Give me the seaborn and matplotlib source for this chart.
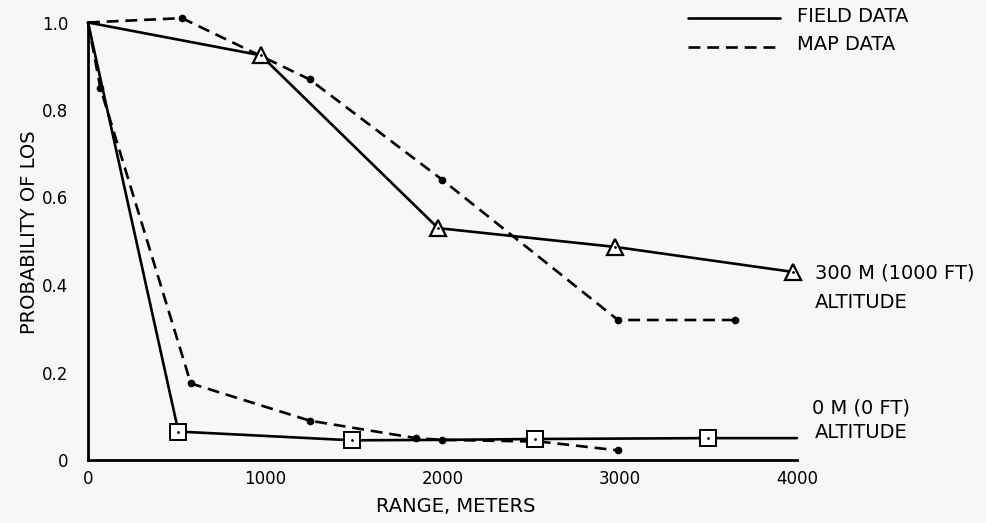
import matplotlib
matplotlib.use("Agg")
import matplotlib.pyplot as plt
import seaborn as sns
import pandas as pd

sns.set_style("white")
plt.rcParams['font.family'] = ['DejaVu Sans']
plt.rcParams['text.color'] = 'black'

# --- data ---
field_300_x = [0, 975, 1975, 2975, 3975]
field_300_y = [1.0, 0.925, 0.53, 0.487, 0.43]
field_300_marker_x = [975, 1975, 2975, 3975]
field_300_marker_y = [0.925, 0.53, 0.487, 0.43]

map_300_x = [0, 530, 1250, 2000, 2990, 3650]
map_300_y = [1.0, 1.01, 0.87, 0.64, 0.32, 0.32]

field_0_x = [0, 510, 1490, 2000, 2520, 3500, 4000]
field_0_y = [1.0, 0.065, 0.045, 0.046, 0.048, 0.05, 0.05]
field_0_marker_x = [510, 1490, 2520, 3500]
field_0_marker_y = [0.065, 0.045, 0.048, 0.05]

map_0_x = [0, 70, 580, 1250, 1850, 2000, 2550, 2990]
map_0_y = [1.0, 0.85, 0.175, 0.09, 0.05, 0.046, 0.042, 0.022]

x_ticks = [0, 1000, 2000, 3000, 4000]
x_tick_labels = ["0", "1000", "2000", "3000", "4000"]
y_ticks = [0, 0.2, 0.4, 0.6, 0.8, 1.0]
y_tick_labels = ["0", "0.2", "0.4", "0.6", "0.8", "1.0"]

bg = "#f7f7f7"
W, H = 987, 523
fig = plt.figure(figsize=(W / 100, H / 100), dpi=100, facecolor=bg)
ax_left, ax_right = 88 / W, 797 / W
ax_bottom = 1 - 460 / H
y_top_px = 460 - 1.03 * 437.5
ax_top = 1 - y_top_px / H
ax = fig.add_axes([ax_left, ax_bottom, ax_right - ax_left, ax_top - ax_bottom])
ax.set_facecolor(bg)

lw = 1.9
dash = (4.5, 2.6)

def line(xs, ys, dashed=False):
    df = pd.DataFrame({"x": xs, "y": ys})
    sns.lineplot(data=df, x="x", y="y", ax=ax, color="black", lw=lw,
                 sort=False, estimator=None, zorder=2)
    ln = ax.lines[-1]
    ln.set_clip_on(False)
    ln.set_solid_joinstyle("round")
    if dashed:
        ln.set_dashes(dash)
    return ln

line(field_300_x, field_300_y)
line(field_0_x, field_0_y)
line(map_300_x, map_300_y, dashed=True)
line(map_0_x, map_0_y, dashed=True)

# map data dots
ax.plot(map_300_x[1:], map_300_y[1:], "o", color="black", ms=4.5, clip_on=False, zorder=3)
ax.plot(map_0_x[1:], map_0_y[1:], "o", color="black", ms=4.5, clip_on=False, zorder=3)

# field markers
ax.plot(field_300_marker_x, field_300_marker_y, "^", ms=11, mfc="white", mec="black",
        mew=1.6, clip_on=False, zorder=4)
ax.plot(field_300_marker_x, field_300_marker_y, ".", ms=2, color="black", clip_on=False, zorder=5)
ax.plot(field_0_marker_x, field_0_marker_y, "s", ms=11, mfc="white", mec="black",
        mew=1.4, clip_on=False, zorder=4)
ax.plot(field_0_marker_x, field_0_marker_y, ".", ms=2, color="black", clip_on=False, zorder=5)

ax.set_xlim(0, 4000)
ax.set_ylim(0, 1.03)
for s in ["top", "right"]:
    ax.spines[s].set_visible(False)
for s in ["left", "bottom"]:
    ax.spines[s].set_linewidth(2.0)
    ax.spines[s].set_color("black")
ax.spines["left"].set_bounds(0, 1.0)

ax.set_xticks(x_ticks)
ax.set_xticklabels(x_tick_labels)
ax.set_yticks(y_ticks)
ax.set_yticklabels(y_tick_labels)
ax.tick_params(axis="both", direction="in", length=9.5, width=1.8, colors="black",
               labelcolor="black", labelsize=12)
ax.tick_params(axis="x", pad=7)
ax.tick_params(axis="y", pad=14)

ax.set_xlabel("")
ax.set_ylabel("")

def fx(px): return px / W
def fy(py): return 1 - py / H

tc = "black"
fig.text(fx(456), fy(507), "RANGE, METERS", fontsize=14, va="center", ha="center", color=tc)
fig.text(fx(30), fy(232), "PROBABILITY OF LOS", fontsize=14, va="center", ha="center",
         rotation=90, color=tc)

# legend drawn manually (figure coords)
fig.add_artist(plt.Line2D([fx(688), fx(780)], [fy(18), fy(18)], color="black", lw=lw))
fig.add_artist(plt.Line2D([fx(688), fx(780)], [fy(47), fy(47)], color="black", lw=lw,
                          dashes=dash))
fig.text(fx(797), fy(16), "FIELD DATA", fontsize=14, va="center", ha="left", color=tc)
fig.text(fx(797), fy(45), "MAP DATA", fontsize=14, va="center", ha="left", color=tc)

fig.text(fx(815), fy(273), "300 M (1000 FT)", fontsize=14, va="center", ha="left", color=tc)
fig.text(fx(815), fy(303), "ALTITUDE", fontsize=14, va="center", ha="left", color=tc)
fig.text(fx(812), fy(408), "0 M (0 FT)", fontsize=14, va="center", ha="left", color=tc)
fig.text(fx(815), fy(433), "ALTITUDE", fontsize=14, va="center", ha="left", color=tc)

fig.savefig("out.png", dpi=100, facecolor=bg)
